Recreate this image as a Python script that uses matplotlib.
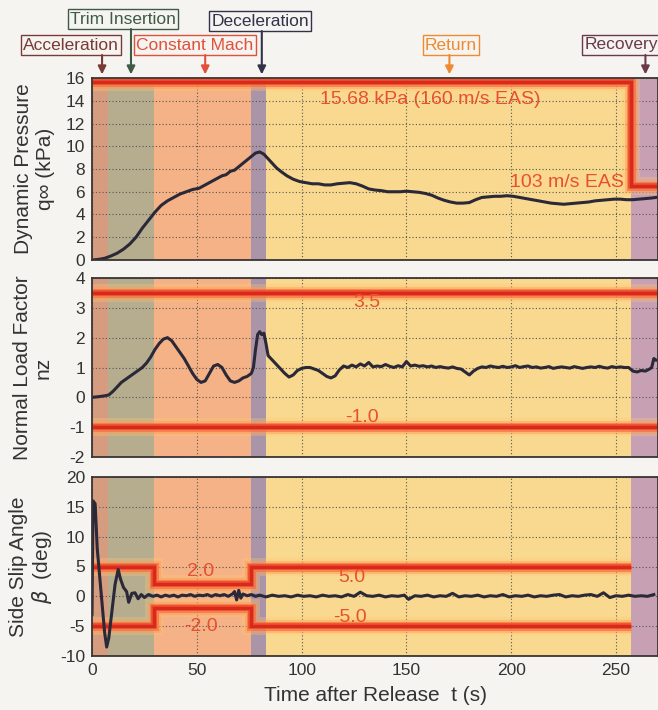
import matplotlib
matplotlib.use('Agg')
import matplotlib.pyplot as plt
import numpy as np

plt.rcParams['font.family'] = ['Liberation Sans Narrow', 'Liberation Sans', 'DejaVu Sans']
plt.rcParams['axes.unicode_minus'] = False

# flight phases (start, end) in s
phase_names = ['Acceleration', 'Trim Insertion', 'Constant Mach', 'Deceleration', 'Return', 'Recovery']
phase_start = [0, 7.5, 29.5, 76, 83, 257]
phase_end = [7.5, 29.5, 76, 83, 257, 270]
phase_fill = ['#d69c80', '#b5ad8e', '#f5b286', '#a994a8', '#f9d98f', '#c8a0b4']
phase_ink = ['#7a3a35', '#3f5a45', '#e0503a', '#33324a', '#f08a30', '#6a3a4a']
phase_arrow_t = [4.8, 18.6, 54, 81, 170.5, 264]

# dynamic pressure q (kPa)
t_q = [0, 3, 6, 9, 12, 15, 18, 21, 24, 27, 30, 33, 36, 39, 42, 45, 48, 51, 54, 57,
       60, 62, 64, 66, 68, 70, 72, 74, 76, 78, 80, 82, 84, 86, 88, 90, 93, 96, 99, 102,
       105, 108, 111, 114, 117, 120, 123, 126, 129, 132, 135, 138, 141, 144, 147, 150,
       153, 156, 159, 162, 165, 168, 171, 174, 177, 180, 183, 186, 189, 192, 195, 198,
       201, 204, 207, 210, 213, 216, 219, 222, 225, 228, 231, 234, 237, 240, 243, 246,
       249, 252, 255, 258, 261, 264, 267, 269]
q = [0.0, 0.05, 0.15, 0.35, 0.6, 0.95, 1.4, 2.0, 2.8, 3.5, 4.2, 4.8, 5.2, 5.5, 5.8, 6.0, 6.2, 6.3, 6.6, 6.9,
     7.2, 7.4, 7.5, 7.8, 7.9, 8.2, 8.5, 8.8, 9.1, 9.4, 9.5, 9.3, 8.9, 8.5, 8.1, 7.8, 7.4, 7.1, 6.9, 6.8,
     6.7, 6.7, 6.6, 6.6, 6.7, 6.75, 6.8, 6.7, 6.5, 6.25, 6.15, 6.1, 6.0, 6.0, 6.0, 6.05,
     6.0, 5.95, 5.85, 5.7, 5.45, 5.25, 5.1, 5.0, 5.0, 5.05, 5.3, 5.5, 5.55, 5.6, 5.6, 5.65,
     5.6, 5.5, 5.4, 5.3, 5.2, 5.1, 5.0, 4.95, 4.9, 4.95, 5.0, 5.05, 5.1, 5.2, 5.25, 5.3,
     5.35, 5.35, 5.3, 5.3, 5.35, 5.4, 5.45, 5.5]
q_lim_t = [0, 257, 257, 270]
q_lim = [15.68, 15.68, 6.5, 6.5]

# normal load factor nz
t_nz = [0, 3, 6, 8, 10, 12, 14, 16, 18, 20, 22, 24, 26, 28, 30, 32, 34, 36, 38, 40,
        42, 44, 46, 48, 50, 52, 54, 56, 58, 60, 62, 64, 66, 68, 70, 72, 74, 76, 77, 78,
        79, 80, 81, 82, 83, 84, 86, 88, 90, 92, 94, 96, 98, 100, 102, 104, 106, 108, 110, 112,
        114, 116, 118, 120, 122, 124, 126, 128, 130, 132, 134, 136, 138, 140, 142, 144, 146, 148, 150, 152,
        154, 156, 158, 160, 162, 164, 166, 168, 170, 172, 174, 176, 178, 180, 182, 184, 186, 188, 190, 192,
        194, 196, 198, 200, 202, 204, 206, 208, 210, 212, 214, 216, 218, 220, 222, 224, 226, 228, 230, 232,
        234, 236, 238, 240, 242, 244, 246, 248, 250, 252, 254, 256, 258, 260, 262, 264, 266, 267, 268, 269]
nz = [0.0, 0.02, 0.05, 0.08, 0.2, 0.35, 0.5, 0.6, 0.7, 0.8, 0.9, 1.0, 1.15, 1.35, 1.6, 1.8, 1.95, 2.0, 1.9, 1.7,
      1.5, 1.3, 1.05, 0.8, 0.6, 0.5, 0.55, 0.8, 1.05, 1.1, 1.0, 0.75, 0.55, 0.5, 0.55, 0.65, 0.7, 0.8, 1.0, 1.6,
      2.1, 2.2, 2.1, 2.15, 1.8, 1.4, 1.25, 1.1, 0.95, 0.8, 0.68, 0.75, 0.9, 0.97, 1.0, 1.0, 0.95, 0.9, 0.8, 0.7,
      0.65, 0.72, 0.92, 1.05, 1.0, 1.08, 1.02, 1.12, 1.05, 1.17, 1.02, 1.05, 1.03, 1.1, 1.04, 1.0, 1.06, 1.02, 1.2, 1.05,
      1.08, 1.04, 1.06, 1.02, 1.05, 1.0, 1.03, 1.0, 0.98, 1.02, 0.97, 0.95, 0.85, 0.75, 0.88, 0.97, 1.02, 1.0, 1.05, 1.02,
      1.0, 1.04, 1.0, 1.02, 1.06, 1.0, 1.03, 1.05, 1.0, 1.02, 0.98, 1.0, 1.03, 0.97, 1.0, 1.02, 1.0, 0.98, 1.03, 1.0,
      0.97, 1.0, 1.02, 1.0, 1.04, 1.0, 0.98, 1.03, 1.0, 1.02, 1.0, 1.0, 0.88, 0.85, 0.9, 0.88, 0.95, 1.0, 1.3, 1.25]
nz_upper = 3.5
nz_lower = -1.0

# side slip angle beta (deg)
t_beta = [0, 0.5, 1.5, 2.5, 3.5, 5, 6, 7, 8, 9, 10, 11, 12.5, 13.5, 15, 16.5, 17.5, 19, 20.5, 22,
          23.5, 25, 27, 29, 31, 33, 35, 37, 39, 41, 43, 45, 47, 49, 51, 53, 55, 57, 59, 61,
          63, 65, 67, 68, 69, 70, 71, 72, 74, 76, 78, 80, 83, 86, 89, 92, 95, 98, 101, 104,
          107, 110, 113, 116, 119, 122, 125, 128, 131, 134, 137, 140, 143, 146, 149, 151, 154, 157, 160, 163,
          166, 169, 172, 175, 178, 181, 184, 187, 190, 193, 196, 199, 202, 205, 208, 211, 214, 217, 220, 223,
          226, 229, 232, 235, 238, 241, 244, 247, 250, 253, 256, 259, 262, 265, 268]
beta = [-3.0, 16.0, 15.5, 8.0, 4.0, -2.0, -6.0, -8.5, -7.0, -4.0, -1.0, 2.0, 4.5, 3.0, 1.5, 0.8, -1.0, 0.5, 0.6, -0.4,
        0.3, -0.2, 0.3, 0.0, 0.2, -0.1, 0.2, 0.0, 0.2, -0.1, 0.2, 0.1, 0.3, 0.0, 0.2, 0.1, 0.3, 0.0, 0.3, 0.1,
        0.3, 0.0, 0.4, 0.8, -0.6, 1.0, -0.3, 0.4, 0.1, 0.3, 0.0, 0.2, -0.1, 0.2, 0.0, 0.1, -0.1, 0.2, 0.0, 0.1,
        -0.1, 0.2, 0.0, 0.1, -0.1, 0.3, 0.0, 0.7, 0.1, 0.0, 0.2, -0.1, 0.1, 0.0, 0.2, -0.5, 0.1, 0.0, 0.2, -0.1,
        0.1, 0.0, 0.5, -0.1, 0.1, 0.0, 0.2, -0.1, 0.1, 0.0, 0.3, -0.1, 0.1, 0.0, 0.2, -0.1, 0.1, 0.0, 0.2, 0.3,
        -0.1, 0.1, 0.0, 0.2, 0.3, 0.0, 0.6, -0.2, 0.1, 0.0, 0.2, 0.0, 0.1, 0.0, 0.3]
beta_lim_t = [0, 29.5, 29.5, 76, 76, 257]
beta_upper = [5, 5, 2, 2, 5, 5]
beta_lower = [-5, -5, -2, -2, -5, -5]

red_txt = '#e8502f'
line_col = '#2b2838'
tick_font = ['Liberation Sans', 'DejaVu Sans']


def glow(ax, x, y):
    for lw, c, a in [(13, '#ffc877', 0.3), (9.5, '#ff9a58', 0.45), (6.5, '#f86a3c', 0.65),
                     (4, '#ec4428', 0.9), (2.2, '#d82a1c', 1.0)]:
        ax.plot(x, y, color=c, lw=lw, alpha=a, solid_joinstyle='miter', solid_capstyle='butt', zorder=2)


def base(ax, ylim, yticks):
    for s, e, c in zip(phase_start, phase_end, phase_fill):
        ax.axvspan(s, e, color=c, lw=0, zorder=0)
    ax.set_xlim(0, 270)
    ax.set_ylim(*ylim)
    ax.set_yticks(yticks)
    ax.set_xticks([0, 50, 100, 150, 200, 250])
    ax.grid(True, color='#555555', lw=0.8, ls=(0, (1, 2)), zorder=1)
    ax.tick_params(length=0, labelsize=12.5, colors='#333333', pad=5)
    for lab in ax.get_xticklabels() + ax.get_yticklabels():
        lab.set_family(tick_font)
    for sp in ax.spines.values():
        sp.set_color('#3a3434')
        sp.set_linewidth(1.3)
        sp.set_zorder(5)


fig = plt.figure(figsize=(6.58, 7.10), dpi=100, facecolor='#f5f4f1')
L, W = 92 / 658, 566 / 658
ax1 = fig.add_axes([L, 1 - 260 / 710, W, 182 / 710])
ax2 = fig.add_axes([L, 1 - 457 / 710, W, 179 / 710])
ax3 = fig.add_axes([L, 1 - 656 / 710, W, 179 / 710])

ylab_kw = dict(fontsize=15, color='#333333', family=tick_font, linespacing=1.15)
red_kw = dict(color=red_txt, fontsize=14, ha='center', va='center', zorder=4)

# top panel
base(ax1, (0, 16), range(0, 17, 2))
glow(ax1, q_lim_t, q_lim)
ax1.plot(t_q, q, color=line_col, lw=2.2, zorder=3)
ax1.text(161.5, 14.1, '15.68 kPa (160 m/s EAS)', **red_kw)
ax1.text(226.5, 6.85, '103 m/s EAS', **red_kw)
ax1.set_ylabel('Dynamic Pressure\nq∞ (kPa)', labelpad=8, **ylab_kw)
ax1.tick_params(labelbottom=False)

# middle panel
base(ax2, (-2, 4), range(-2, 5))
glow(ax2, [0, 270], [nz_upper, nz_upper])
glow(ax2, [0, 270], [nz_lower, nz_lower])
ax2.plot(t_nz, nz, color=line_col, lw=2.2, zorder=3)
ax2.text(131, 3.17, '3.5', **red_kw)
ax2.text(129, -0.66, '-1.0', **red_kw)
ax2.set_ylabel('Normal Load Factor\nnz', labelpad=12, **ylab_kw)
ax2.tick_params(labelbottom=False)

# bottom panel
base(ax3, (-10, 20), range(-10, 21, 5))
glow(ax3, beta_lim_t, beta_upper)
glow(ax3, beta_lim_t, beta_lower)
ax3.plot(t_beta, beta, color=line_col, lw=2.2, zorder=3)
ax3.text(52, 4.1, '2.0', **red_kw)
ax3.text(52, -5.1, '-2.0', **red_kw)
ax3.text(124, 3.1, '5.0', **red_kw)
ax3.text(123, -3.5, '-5.0', **red_kw)
ax3.set_ylabel('Side Slip Angle\n$\\beta$  (deg)', labelpad=4, **ylab_kw)
ax3.set_xlabel('Time after Release  t (s)', labelpad=6, **ylab_kw)

# phase labels with arrows
label_xy = [(71, 45), (123, 19), (195, 45), (260, 21), (451, 45), (621, 45)]
for name, ink, ta, (px, py) in zip(phase_names, phase_ink, phase_arrow_t, label_xy):
    fig.text(px / 658, 1 - py / 710, name, color=ink, fontsize=12.5, ha='center', va='center',
             bbox=dict(boxstyle='square,pad=0.12', fc='none', ec=ink, lw=1.0))
    tail = 1 + (78 - py - 10) / 182
    ax1.annotate('', xy=(ta, 1.02), xycoords=('data', 'axes fraction'),
                 xytext=(ta, tail), textcoords=('data', 'axes fraction'),
                 arrowprops=dict(arrowstyle='-|>', color=ink, lw=1.5, mutation_scale=12,
                                 shrinkA=0, shrinkB=0), annotation_clip=False)

fig.savefig('out.png', dpi=100, facecolor=fig.get_facecolor())
